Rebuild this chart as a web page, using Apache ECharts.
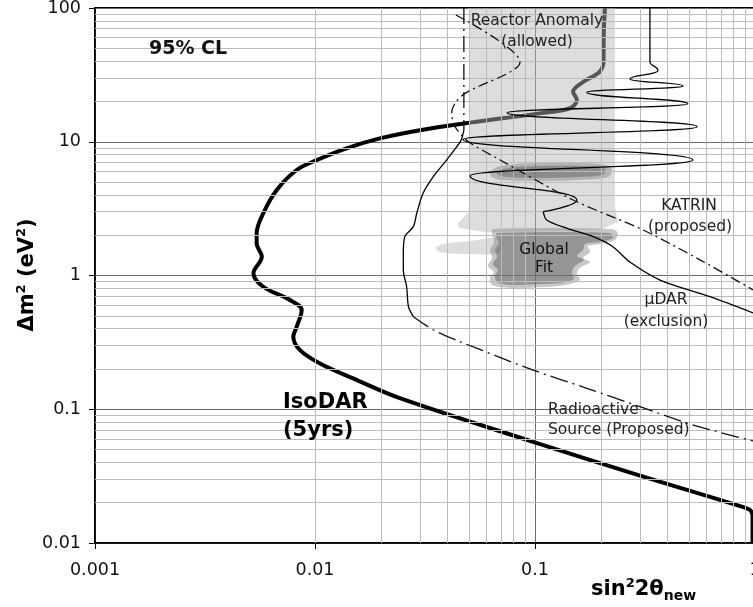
<!DOCTYPE html>
<html>
<head>
<meta charset="utf-8">
<script src="https://cdn.jsdelivr.net/npm/echarts@6/dist/echarts.min.js"></script>
<style>
  html, body { margin: 0; padding: 0; background: #fff; }
  #chart { width: 753px; height: 607px; }
</style>
</head>
<body>
<div id="chart"></div>
<script>
// Axis decades (sin^2 2θ and Δm^2 in eV^2)
const xTicks = [0.001, 0.01, 0.1, 1];
const yTicks = [0.01, 0.1, 1, 10, 100];

// IsoDAR (5 yrs) 95% CL sensitivity contour, [sin^2 2θ, Δm^2]
const isodar = [
  [0.975, 0.0100], [0.975, 0.0160], [0.960, 0.0173], [0.925, 0.0181],
  [0.300, 0.0319], [0.098, 0.0571], [0.0243, 0.121], [0.0149, 0.170],
  [0.01054, 0.220], [0.00855, 0.277], [0.00797, 0.349], [0.00826, 0.414],
  [0.0087, 0.552], [0.00769, 0.656], [0.00582, 0.824], [0.00525, 1.04],
  [0.00573, 1.38], [0.00543, 1.74], [0.00543, 2.07], [0.00582, 2.92],
  [0.0067, 4.36], [0.00826, 6.15], [0.0102, 7.3], [0.0139, 8.93],
  [0.0197, 10.6], [0.030, 12.2], [0.0507, 13.9], [0.105, 16.3],
  [0.144, 17.8], [0.155, 20.5], [0.149, 23.7], [0.166, 28.1],
  [0.197, 33.4], [0.205, 40.8], [0.205, 54.5], [0.208, 100]
];

// μDAR exclusion: oscillating high-Δm^2 part and the smooth low-Δm^2 tail
const mudarOsc = [
  [0.333, 100], [0.333, 39.7], [0.362, 34.0], [0.270, 29.5], [0.471, 26.1],
  [0.172, 23.4], [0.495, 19.2], [0.0747, 16.5], [0.545, 12.97], [0.0471, 10.4],
  [0.522, 7.31], [0.0507, 5.57], [0.155, 3.67], [0.109, 3.0]
];
const mudarTail = [
  [0.109, 3.0], [0.113, 2.60], [0.140, 2.25], [0.184, 1.95], [0.226, 1.64],
  [0.270, 1.26], [0.370, 0.925], [0.624, 0.694], [0.98, 0.525]
];

// KATRIN (proposed)
const katrin = [
  [0.0437, 88.7], [0.0855, 39.5], [0.0481, 23.0], [0.0433, 19.4], [0.0418, 16.3],
  [0.0433, 13.0], [0.0471, 10.9], [0.0507, 9.79], [0.0694, 7.31], [0.149, 3.67],
  [0.310, 2.19], [0.562, 1.31], [0.98, 0.78]
];

// Radioactive source (proposed)
const radioTop = [[0.0475, 100], [0.0475, 12.2]];
const radioMid = [
  [0.0475, 12.2], [0.0462, 10.3], [0.0441, 9.18], [0.0397, 7.31], [0.0345, 5.48],
  [0.0310, 4.12], [0.0290, 2.92], [0.0280, 2.32], [0.0256, 1.95], [0.0252, 1.47],
  [0.0252, 1.10], [0.0261, 0.824], [0.0266, 0.585], [0.0280, 0.492]
];
const radioLow = [
  [0.0280, 0.492], [0.0345, 0.392], [0.0456, 0.320], [0.0543, 0.286], [0.0982, 0.196],
  [0.172, 0.1435], [0.300, 0.1045], [0.525, 0.0762], [0.98, 0.058]
];

// Reactor anomaly allowed region
const reactorBand = [
  [0.0501, 100], [0.231, 100], [0.231, 3.37], [0.238, 2.51], [0.197, 2.19],
  [0.0605, 2.11], [0.0456, 2.26], [0.0442, 2.43], [0.0471, 2.69], [0.0501, 3.03]
];
const reactorTongue = [
  [0.0694, 1.88], [0.0507, 1.81], [0.0411, 1.75], [0.0355, 1.63],
  [0.0370, 1.50], [0.0507, 1.45], [0.0694, 1.50]
];

// Global fit regions (outer and inner contours)
const fitOuter = [
  [0.0644, 2.23], [0.224, 2.23], [0.238, 2.08], [0.231, 1.84], [0.197, 1.72],
  [0.174, 1.66], [0.178, 1.50], [0.165, 1.35], [0.178, 1.26], [0.160, 1.14],
  [0.155, 1.044], [0.160, 0.925], [0.137, 0.849], [0.111, 0.821], [0.0769, 0.807],
  [0.0638, 0.849], [0.0624, 0.957], [0.0651, 1.06], [0.0611, 1.18], [0.0638, 1.35],
  [0.0624, 1.55], [0.0651, 1.78], [0.0638, 2.04]
];
const fitInner = [
  [0.0672, 2.08], [0.219, 2.08], [0.226, 1.91], [0.193, 1.78], [0.169, 1.72],
  [0.165, 1.55], [0.155, 1.40], [0.167, 1.31], [0.152, 1.18], [0.147, 1.06],
  [0.150, 0.942], [0.130, 0.879], [0.1054, 0.864], [0.0769, 0.849], [0.0672, 0.894],
  [0.0658, 0.991], [0.0679, 1.10], [0.0644, 1.22], [0.0672, 1.38], [0.0658, 1.55],
  [0.0686, 1.75], [0.0665, 1.94]
];
const islandOuter = [
  [0.0624, 5.94], [0.0694, 6.59], [0.1054, 6.93], [0.160, 6.93], [0.210, 6.70],
  [0.224, 6.15], [0.215, 5.45], [0.160, 5.18], [0.1054, 5.09], [0.0694, 5.18], [0.0638, 5.45]
];
const islandInner = [
  [0.0672, 5.94], [0.0754, 6.37], [0.1054, 6.59], [0.160, 6.59], [0.202, 6.47],
  [0.210, 6.04], [0.202, 5.64], [0.160, 5.45], [0.1054, 5.36], [0.0754, 5.45], [0.0686, 5.64]
];

// Minor grid positions: 2..9 within each decade
function minorValues(ticks) {
  const out = [];
  for (let i = 0; i < ticks.length - 1; i++) {
    for (let k = 2; k <= 9; k++) out.push(+(k * ticks[i]).toPrecision(6));
  }
  return out;
}
const minorX = minorValues(xTicks);
const minorY = minorValues(yTicks);

function tickLabel(ticks) {
  return function (v) {
    const t = ticks.find(function (t) { return Math.abs(Math.log10(t / v)) < 1e-6; });
    return t === undefined ? '' : String(t);
  };
}

function lineSeries(data, opts) {
  return Object.assign({
    type: 'line', data: data, showSymbol: false, symbol: 'none',
    silent: true, animation: false, z: 5, smooth: 0.3,
    lineStyle: { color: '#000', width: 1.3 }
  }, opts);
}

function regionSeries(points, fill, z, smooth) {
  return {
    type: 'custom', coordinateSystem: 'cartesian2d', data: [points[0]],
    silent: true, animation: false, z: z,
    renderItem: function (params, api) {
      return {
        type: 'polygon',
        shape: { points: points.map(function (p) { return api.coord(p); }), smooth: smooth },
        style: { fill: fill }
      };
    }
  };
}

const FONT = '"DejaVu Sans", Verdana, sans-serif';

const chart = echarts.init(document.getElementById('chart'), null, { renderer: 'canvas' });

chart.setOption({
  animation: false,
  backgroundColor: '#fff',
  grid: {
    left: 95, top: 8, right: -2, bottom: 64,
    outerBoundsMode: 'none', containLabel: false,
    show: true, borderColor: '#000', borderWidth: 2, backgroundColor: 'transparent'
  },
  xAxis: {
    type: 'log', logBase: 10, min: xTicks[0], max: xTicks[xTicks.length - 1],
    axisLine: { show: true, onZero: false, lineStyle: { color: '#000', width: 1.5 } },
    axisTick: { show: true, length: 6, lineStyle: { color: '#000', width: 1 } },
    axisLabel: { margin: 18, fontSize: 17.5, fontFamily: FONT, color: '#111', formatter: tickLabel(xTicks) },
    splitLine: { show: true, lineStyle: { color: '#6a6a6a', width: 1 } }
  },
  yAxis: {
    type: 'log', logBase: 10, min: yTicks[0], max: yTicks[yTicks.length - 1],
    axisLine: { show: true, onZero: false, lineStyle: { color: '#000', width: 1.5 } },
    axisTick: { show: true, length: 6, lineStyle: { color: '#000', width: 1 } },
    axisLabel: { margin: 14, fontSize: 17.5, fontFamily: FONT, color: '#111', formatter: tickLabel(yTicks) },
    splitLine: { show: true, lineStyle: { color: '#6a6a6a', width: 1 } }
  },
  series: [
    {
      type: 'line', data: [], silent: true, animation: false, z: 0,
      markLine: {
        silent: true, symbol: 'none', animation: false,
        label: { show: false },
        lineStyle: { color: '#bcbcbc', width: 1, type: 'solid' },
        emphasis: { disabled: true },
        data: minorX.map(function (v) { return { xAxis: v }; })
          .concat(minorY.map(function (v) { return { yAxis: v }; }))
      }
    },
    lineSeries(isodar, { z: 1, smooth: 0.35, lineStyle: { color: '#000', width: 4 } }),
    regionSeries(reactorBand, 'rgba(182,182,182,0.47)', 2, 0),
    regionSeries(reactorTongue, 'rgba(182,182,182,0.47)', 2, 0.4),
    regionSeries(fitOuter, 'rgba(130,130,130,0.45)', 3, 0.3),
    regionSeries(islandOuter, 'rgba(130,130,130,0.45)', 3, 0.3),
    regionSeries(fitInner, 'rgba(100,100,100,0.5)', 4, 0.3),
    regionSeries(islandInner, 'rgba(100,100,100,0.5)', 4, 0.3),
    lineSeries(mudarOsc, { smooth: 0.5, smoothMonotone: 'y' }),
    lineSeries(mudarTail, { smooth: 0.3 }),
    lineSeries(katrin, { smooth: 0.3, lineStyle: { color: '#111', width: 1.3, type: [10, 4, 2, 4] } }),
    lineSeries(radioTop, { smooth: 0, lineStyle: { color: '#111', width: 1.3, type: [16, 5, 2, 5] } }),
    lineSeries(radioMid, { smooth: 0.3 }),
    lineSeries(radioLow, { smooth: 0.3, lineStyle: { color: '#111', width: 1.3, type: [18, 5, 2, 5] } })
  ],
  graphic: [
    { type: 'text', x: 149, y: 49, z: 100, style: { text: '95% CL', font: 'bold 19px ' + FONT, fill: '#111', align: 'left', verticalAlign: 'middle' } },
    { type: 'text', x: 537, y: 21, z: 100, style: { text: 'Reactor Anomaly', font: '15.5px ' + FONT, fill: '#222', align: 'center', verticalAlign: 'middle' } },
    { type: 'text', x: 537, y: 42, z: 100, style: { text: '(allowed)', font: '15.5px ' + FONT, fill: '#222', align: 'center', verticalAlign: 'middle' } },
    { type: 'text', x: 689, y: 206, z: 100, style: { text: 'KATRIN', font: '15.5px ' + FONT, fill: '#222', align: 'center', verticalAlign: 'middle' } },
    { type: 'text', x: 690, y: 227, z: 100, style: { text: '(proposed)', font: '15.5px ' + FONT, fill: '#222', align: 'center', verticalAlign: 'middle' } },
    { type: 'text', x: 666, y: 300, z: 100, style: { text: 'μDAR', font: '15.5px ' + FONT, fill: '#222', align: 'center', verticalAlign: 'middle' } },
    { type: 'text', x: 666, y: 322, z: 100, style: { text: '(exclusion)', font: '15.5px ' + FONT, fill: '#222', align: 'center', verticalAlign: 'middle' } },
    { type: 'text', x: 548, y: 410, z: 100, style: { text: 'Radioactive', font: '15.5px ' + FONT, fill: '#222', align: 'left', verticalAlign: 'middle' } },
    { type: 'text', x: 548, y: 430, z: 100, style: { text: 'Source (Proposed)', font: '15.5px ' + FONT, fill: '#222', align: 'left', verticalAlign: 'middle' } },
    { type: 'text', x: 544, y: 250, z: 100, style: { text: 'Global', font: '15.5px ' + FONT, fill: '#111', align: 'center', verticalAlign: 'middle' } },
    { type: 'text', x: 544, y: 268, z: 100, style: { text: 'Fit', font: '15.5px ' + FONT, fill: '#111', align: 'center', verticalAlign: 'middle' } },
    { type: 'text', x: 283, y: 403, z: 100, style: { text: 'IsoDAR', font: 'bold 21px ' + FONT, fill: '#000', align: 'left', verticalAlign: 'middle' } },
    { type: 'text', x: 283, y: 431, z: 100, style: { text: '(5yrs)', font: 'bold 21px ' + FONT, fill: '#000', align: 'left', verticalAlign: 'middle' } },
    {
      type: 'text', x: 591, y: 590, z: 100,
      style: {
        text: '{b|sin}{sup|2}{b|2θ}{sub|new}', align: 'left', verticalAlign: 'middle',
        rich: {
          b: { fontSize: 21, fontWeight: 'bold', fontFamily: FONT, fill: '#000', color: '#000', lineHeight: 26 },
          sup: { fontSize: 13, fontWeight: 'bold', fontFamily: FONT, fill: '#000', color: '#000', lineHeight: 12, verticalAlign: 'top' },
          sub: { fontSize: 14, fontWeight: 'bold', fontFamily: FONT, fill: '#000', color: '#000', lineHeight: 8, verticalAlign: 'bottom' }
        }
      }
    },
    {
      type: 'text', x: 28, y: 275, z: 100, rotation: Math.PI / 2,
      style: {
        text: '{b|Δm}{sup|2}{b| (eV}{sup|2}{b|)}', align: 'center', verticalAlign: 'middle',
        rich: {
          b: { fontSize: 21, fontWeight: 'bold', fontFamily: FONT, fill: '#000', color: '#000', lineHeight: 26 },
          sup: { fontSize: 13, fontWeight: 'bold', fontFamily: FONT, fill: '#000', color: '#000', lineHeight: 12, verticalAlign: 'top' }
        }
      }
    }
  ]
});
</script>
</body>
</html>
